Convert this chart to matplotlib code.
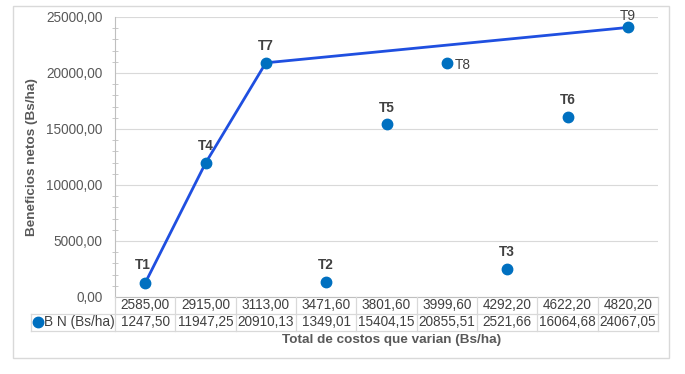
import matplotlib
matplotlib.use("Agg")
import matplotlib.pyplot as plt
from matplotlib.lines import Line2D
from matplotlib.patches import Rectangle
from matplotlib.ticker import MultipleLocator, FuncFormatter

plt.rcParams['font.family'] = ['Liberation Sans', 'DejaVu Sans']

# ---- data ----
costs = [2585.00, 2915.00, 3113.00, 3471.60, 3801.60, 3999.60, 4292.20, 4622.20, 4820.20]
benefits = [1247.50, 11947.25, 20910.13, 1349.01, 15404.15, 20855.51, 2521.66, 16064.68, 24067.05]
labels = ["T1", "T4", "T7", "T2", "T5", "T8", "T3", "T6", "T9"]
frontier = ["T1", "T4", "T7", "T9"]
series_name = "B N (Bs/ha)"
ylabel = "Beneficios netos (Bs/ha)"
xlabel = "Total de costos que varian (Bs/ha)"

W, H = 685, 374
fig = plt.figure(figsize=(W / 100, H / 100), dpi=100)

def fx(px):
    return px / W

def fy(py):
    return 1 - py / H

# chart border
fig.patches.append(Rectangle((fx(13), fy(358)), fx(669) - fx(13), fy(6) - fy(358),
                             transform=fig.transFigure, fill=False, ec="#d9d9d9", lw=1.0))

L, R, T, B = 115, 658, 17, 297
ax = fig.add_axes([fx(L), fy(B), fx(R) - fx(L), fy(T) - fy(B)])
n = len(costs)
ax.set_xlim(-0.5, n - 0.5)
ax.set_ylim(0, 25000)

mk = "#0070C0"
line_c = "#1F4FE0"
idx = [labels.index(t) for t in frontier]
ax.plot(idx, [benefits[i] for i in idx], color=line_c, lw=2.0, zorder=2)
ax.plot(range(n), benefits, 'o', color=mk, ms=7.5, zorder=3, mec=mk)

# data labels
offsets = {"T1": (-2, 8, 'center', 'bottom', 'bold'),
           "T8": (6, -1, 'left', 'center', 'normal'),
           "T9": (0, 3.5, 'center', 'bottom', 'normal')}
for i, (t, v) in enumerate(zip(labels, benefits)):
    dx, dy, ha, va, fw = offsets.get(t, (0, 7, 'center', 'bottom', 'bold'))
    ax.annotate(t, (i, v), xytext=(dx, dy), textcoords='offset points', ha=ha, va=va,
                fontsize=9.8, fontweight=fw, color="#404040", annotation_clip=False)

ax.yaxis.set_major_locator(MultipleLocator(5000))
ax.yaxis.set_minor_locator(MultipleLocator(1000))
ax.yaxis.set_major_formatter(FuncFormatter(lambda v, p: f"{v:.2f}".replace('.', ',')))
ax.tick_params(axis='y', which='both', direction='inout', color="#bfbfbf", labelsize=9.8,
               labelcolor="#595959", pad=9)
ax.tick_params(axis='y', which='major', length=0)
ax.tick_params(axis='y', which='minor', length=5)
ax.set_xticks([])
ax.grid(axis='y', which='major', color="#d9d9d9", lw=0.8)
ax.set_axisbelow(True)
for s in ['top', 'right']:
    ax.spines[s].set_visible(False)
ax.spines['left'].set_color("#bfbfbf")
ax.spines['bottom'].set_color("#bfbfbf")

fig.text(fx(32), fy(157), ylabel, rotation=90, ha='center', va='center',
         fontsize=9.7, fontweight='bold', color="#595959")
fig.text(fx(392), fy(340), xlabel, ha='center', va='center',
         fontsize=9.7, fontweight='bold', color="#595959")

# data table
tc = "#d9d9d9"
r0, r1, r2 = 297, 313.5, 331
cw = (R - L) / n
def hline(x0, x1, y):
    fig.add_artist(Line2D([fx(x0), fx(x1)], [fy(y), fy(y)], color=tc, lw=0.9,
                          transform=fig.transFigure))
def vline(x, y0, y1):
    fig.add_artist(Line2D([fx(x), fx(x)], [fy(y0), fy(y1)], color=tc, lw=0.9,
                          transform=fig.transFigure))
hline(31, R, r1)
hline(31, R, r2)
vline(31, r1, r2)
for i in range(n + 1):
    vline(L + i * cw, r0, r2)
fmt = lambda v: f"{v:.2f}".replace('.', ',')
for i in range(n):
    cx = L + (i + 0.5) * cw
    fig.text(fx(cx), fy((r0 + r1) / 2), fmt(costs[i]), ha='center', va='center',
             fontsize=9.8, color="#404040")
    fig.text(fx(cx), fy((r1 + r2) / 2), fmt(benefits[i]), ha='center', va='center',
             fontsize=9.8, color="#404040")
fig.add_artist(Line2D([fx(38)], [fy((r1 + r2) / 2)], marker='o', ms=7.5, color=mk,
                      transform=fig.transFigure))
fig.text(fx(44.5), fy((r1 + r2) / 2), series_name, ha='left', va='center',
         fontsize=9.8, color="#404040")

fig.savefig("out.png", dpi=100)
